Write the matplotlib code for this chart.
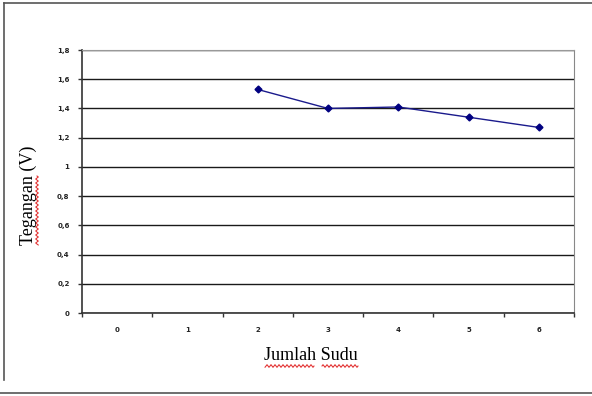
import numpy as np
import matplotlib.pyplot as plt
from matplotlib.lines import Line2D

# jumlah sudu (kategori) dan tegangan terukur
sudu = ['0', '1', '2', '3', '4', '5', '6']
tegangan = [np.nan, np.nan, 1.53, 1.40, 1.41, 1.34, 1.27]
y_ticks = [0, 0.2, 0.4, 0.6, 0.8, 1.0, 1.2, 1.4, 1.6, 1.8]
y_labels = ['0', '0,2', '0,4', '0,6', '0,8', '1', '1,2', '1,4', '1,6', '1,8']

fig = plt.figure(figsize=(5.92, 3.96), dpi=100)
ax = fig.add_axes([82/592, 1 - 313/396, 492/592, 263/396])

x = np.arange(len(sudu))
ax.plot(x, tegangan, color='#1a1a8c', lw=1.0, marker='D', ms=3.5,
        mec='#000080', mfc='#000080', zorder=3)

ax.set_xlim(-0.5, len(sudu) - 0.5)
ax.set_ylim(0, 1.8)
ax.set_yticks(y_ticks)
ax.set_yticklabels(y_labels, fontsize=5, fontweight='bold', color='#222222')
ax.set_xticks(x)
ax.set_xticklabels(sudu, fontsize=5, fontweight='bold', color='#222222')
ax.tick_params(axis='x', length=0, pad=10)
ax.tick_params(axis='y', length=3, width=1, color='#333333', pad=6)
# tanda batas kategori pada sumbu x
ax.set_xticks(np.arange(-0.5, len(sudu)), minor=True)
ax.tick_params(axis='x', which='minor', length=3, width=1, color='#333333')

ax.yaxis.grid(True, color='#1a1a1a', lw=1.0)
ax.set_axisbelow(True)
ax.spines['left'].set_color('#333333')
ax.spines['left'].set_linewidth(1.2)
ax.spines['bottom'].set_color('#333333')
ax.spines['bottom'].set_linewidth(1.2)
ax.spines['top'].set_color('#999999')
ax.spines['right'].set_color('#888888')

serif = ['Liberation Serif', 'DejaVu Serif']
fig.text(28/592, 1 - 195/396, 'Tegangan (V)', rotation=90, fontsize=13,
         family=serif, ha='center', va='center')
fig.text(311/592, 1 - 355/396, 'Jumlah Sudu', fontsize=13,
         family=serif, ha='center', va='center')

# garis bawah bergelombang (pemeriksa ejaan)
def wavy(x0, x1, y0, vertical=False):
    t = np.linspace(0, 1, 200)
    s = x0 + (x1 - x0) * t
    w = y0 + 1.2 * np.sin(s * 2 * np.pi / 4)
    if vertical:
        px, py = w, s
    else:
        px, py = s, w
    fig.add_artist(Line2D(px / 592, 1 - py / 396, color='#e02020', lw=0.7))

wavy(265, 314, 366)
wavy(322, 358, 366)
wavy(176, 245, 37, vertical=True)

# bingkai halaman
frame = dict(color='#555555', lw=1.2)
fig.add_artist(Line2D([4/592, 4/592], [1 - 3/396, 1 - 380/396], **frame))
fig.add_artist(Line2D([4/592, 1], [1 - 3/396, 1 - 3/396], **frame))
fig.add_artist(Line2D([0, 1], [1 - 393/396, 1 - 393/396], **frame))

fig.savefig('out.png', dpi=100)
